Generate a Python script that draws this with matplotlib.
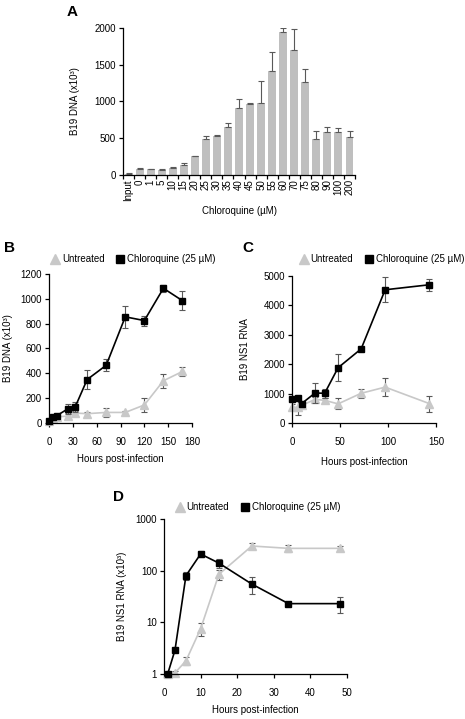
import matplotlib.pyplot as plt
from matplotlib.lines import Line2D

plt.rcParams['font.family'] = ['Liberation Sans', 'DejaVu Sans']
plt.rcParams['font.size'] = 7

# panel A - dose response
doses = ['Input', '0', '1', '5', '10', '15', '20', '25', '30', '35', '40', '45',
         '50', '55', '60', '70', '75', '80', '90', '100', '200']
dna_dose = [20, 85, 80, 70, 100, 135, 260, 490, 525, 650, 910, 960,
            985, 1410, 1950, 1700, 1270, 490, 580, 580, 520]
dna_dose_err = [5, 10, 8, 5, 5, 25, 5, 35, 15, 55, 130, 25,
                290, 260, 50, 290, 170, 110, 70, 55, 85]

# panel B - DNA time course
hours_b = [0, 5, 10, 24, 33, 48, 72, 96, 120, 144, 168]
dna_untr = [20, 40, 50, 55, 80, 75, 85, 85, 145, 340, 415]
dna_untr_err = [5, 5, 5, 25, 20, 15, 35, 10, 55, 55, 40]
dna_cq = [20, 45, 60, 115, 130, 350, 465, 855, 825, 1085, 985]
dna_cq_err = [5, 8, 10, 40, 40, 80, 50, 90, 40, 30, 75]

# panel C - NS1 RNA time course
hours_c = [0, 6, 10, 24, 34, 48, 72, 97, 143]
rna_untr = [540, 530, 600, 800, 770, 650, 1010, 1220, 660]
rna_untr_err = [100, 250, 100, 100, 80, 190, 150, 300, 270]
rna_cq = [820, 850, 660, 1020, 1010, 1880, 2520, 4530, 4700]
rna_cq_err = [100, 80, 60, 330, 150, 460, 50, 430, 200]

# panel D - early NS1 RNA (log)
hours_d = [1, 3, 6, 10, 15, 24, 34, 48]
early_untr = [1, 1.05, 1.8, 7.5, 85, 300, 270, 270]
early_untr_err = [0.05, 0.1, 0.3, 2, 20, 40, 40, 30]
early_cq = [1, 2.9, 80, 210, 140, 55, 23, 23]
early_cq_err = [0.05, 0.2, 15, 30, 25, 20, 1, 8]

untr_col = '#c8c8c8'
err_col = '#595959'

fig = plt.figure(figsize=(4.65, 7.19), dpi=100)


def style(ax):
    for s in ['top', 'right']:
        ax.spines[s].set_visible(False)
    for s in ['left', 'bottom']:
        ax.spines[s].set_linewidth(0.9)
    ax.tick_params(direction='out', length=3, width=0.9, pad=2)


def timecourse(ax, x, yu, eu, yc, ec):
    for y, e, c, m, ms, z in [(yu, eu, untr_col, '^', 5.5, 2), (yc, ec, 'black', 's', 4.5, 3)]:
        ebar = ax.errorbar(x, y, yerr=e, color=c, marker=m, ms=ms, lw=1.2,
                           ecolor=err_col, elinewidth=0.8, capsize=2, capthick=0.8,
                           zorder=z)
        ebar.lines[0].set_clip_on(False)


def legend(ax, xc, yc):
    h = [Line2D([], [], ls='none', marker='^', ms=7, color=untr_col),
         Line2D([], [], ls='none', marker='s', ms=6, color='black')]
    ax.legend(h, ['Untreated', 'Chloroquine (25 µM)'], loc='center',
              bbox_to_anchor=(xc, yc), ncol=2, frameon=False,
              handlelength=0.8, handletextpad=0.3, columnspacing=1.2,
              borderaxespad=0, fontsize=7)


# A
axA = fig.add_axes([0.2645, 0.7566, 0.499, 0.2045])
style(axA)
pos = list(range(len(doses)))
axA.bar(pos, dna_dose, width=0.72, color='#bfbfbf')
axA.errorbar(pos, dna_dose, yerr=[[0] * len(doses), dna_dose_err], fmt='none',
             ecolor=err_col, elinewidth=0.8, capsize=2, capthick=0.8)
axA.set_xlim(-0.5, len(doses) - 0.5)
axA.set_ylim(0, 2000)
axA.set_yticks([0, 500, 1000, 1500, 2000])
axA.set_xticks(pos)
axA.set_xticklabels(doses, rotation=90)
axA.set_xticks([p - 0.5 for p in pos] + [len(doses) - 0.5], minor=True)
axA.tick_params(axis='x', which='major', length=0, pad=3)
axA.tick_params(axis='x', which='minor', length=3, width=0.9, direction='out')
axA.set_ylabel('B19 DNA (x10³)')
axA.yaxis.set_label_coords(-0.185, 0.5)
axA.set_xlabel('Chloroquine (µM)')
axA.xaxis.set_label_coords(0.5, -0.21)

# B
axB = fig.add_axes([0.1054, 0.4117, 0.3075, 0.2072])
style(axB)
timecourse(axB, hours_b, dna_untr, dna_untr_err, dna_cq, dna_cq_err)
axB.set_xlim(0, 180)
axB.set_ylim(0, 1200)
axB.set_xticks(range(0, 181, 30))
axB.set_yticks(range(0, 1201, 200))
axB.set_ylabel('B19 DNA (x10³)')
axB.yaxis.set_label_coords(-0.255, 0.5)
axB.set_xlabel('Hours post-infection')
axB.xaxis.set_label_coords(0.5, -0.21)
axB.tick_params(axis='x', pad=7)
legend(axB, 0.59, 1.10)

# C
axC = fig.add_axes([0.628, 0.4117, 0.3097, 0.2045])
style(axC)
timecourse(axC, hours_c, rna_untr, rna_untr_err, rna_cq, rna_cq_err)
axC.set_xlim(0, 150)
axC.set_ylim(0, 5000)
axC.set_xticks([0, 50, 100, 150])
axC.set_yticks(range(0, 5001, 1000))
axC.set_ylabel('B19 NS1 RNA')
axC.yaxis.set_label_coords(-0.29, 0.5)
axC.set_xlabel('Hours post-infection')
axC.xaxis.set_label_coords(0.5, -0.23)
axC.tick_params(axis='x', pad=7)
legend(axC, 0.625, 1.115)

# D
axD = fig.add_axes([0.3527, 0.0626, 0.3935, 0.2156])
style(axD)
timecourse(axD, hours_d, early_untr, early_untr_err, early_cq, early_cq_err)
axD.set_yscale('log')
axD.set_xlim(0, 50)
axD.set_ylim(1, 1000)
axD.set_xticks(range(0, 51, 10))
axD.set_yticks([1, 10, 100, 1000])
axD.set_yticklabels(['1', '10', '100', '1000'])
axD.yaxis.set_minor_locator(plt.NullLocator())
axD.set_ylabel('B19 NS1 RNA (x10³)')
axD.yaxis.set_label_coords(-0.202, 0.5)
axD.set_xlabel('Hours post-infection')
axD.xaxis.set_label_coords(0.5, -0.2)
axD.tick_params(axis='x', pad=7)
legend(axD, 0.514, 1.077)

fig.text(67 / 465, 1 - 12 / 719, 'A', fontsize=11, fontweight='bold', va='center')
fig.text(4 / 465, 1 - 248 / 719, 'B', fontsize=11, fontweight='bold', va='center')
fig.text(242 / 465, 1 - 248 / 719, 'C', fontsize=11, fontweight='bold', va='center')
fig.text(113 / 465, 1 - 497 / 719, 'D', fontsize=11, fontweight='bold', va='center')

fig.savefig('out.png', dpi=100)
